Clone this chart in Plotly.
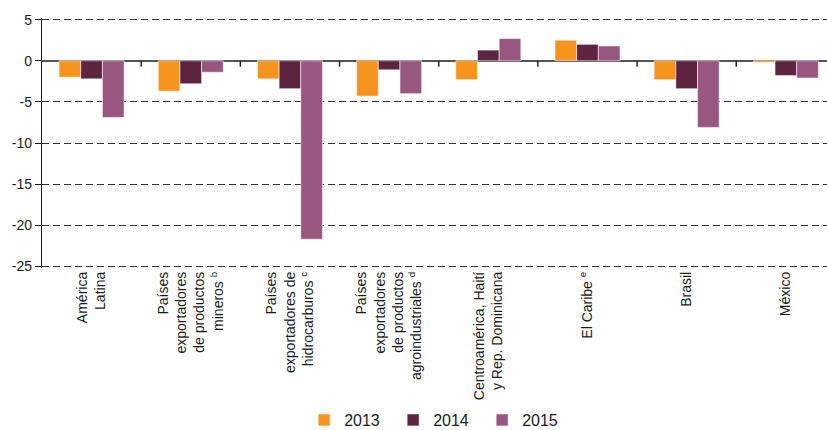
import plotly.graph_objects as go

categories = [
    "América<br>Latina",
    "Países<br>exportadores<br>de productos<br>mineros <sup>b</sup>",
    "Países<br>exportadores de<br>hidrocarburos <sup>c</sup>",
    "Países<br>exportadores<br>de productos<br>agroindustriales <sup>d</sup>",
    "Centroamérica, Haití<br>y Rep. Dominicana",
    "El Caribe <sup>e</sup>",
    "Brasil",
    "México",
]
v2013 = [-2.0, -3.7, -2.2, -4.3, -2.3, 2.5, -2.3, -0.2]
v2014 = [-2.2, -2.8, -3.4, -1.1, 1.3, 2.0, -3.4, -1.8]
v2015 = [-6.9, -1.4, -21.7, -4.0, 2.7, 1.8, -8.1, -2.1]
series_names = ["2013", "2014", "2015"]
colors = ["#F7941D", "#5E2540", "#98577F"]
y_ticks = [5, 0, -5, -10, -15, -20, -25]
y_ticklabels = ["5", "0", "-5", "-10", "-15", "-20", "-25"]

FONT = "Liberation Sans, Arial, sans-serif"
x = list(range(len(categories)))
boundaries = [i + 0.5 for i in range(len(categories) - 1)]
xrange = [-0.5, 7.415]

fig = go.Figure()
for name, vals, col in zip(series_names, [v2013, v2014, v2015], colors):
    fig.add_trace(go.Bar(
        x=x, y=vals, name=name,
        marker=dict(color=col, line=dict(color="rgba(255,255,255,0.7)", width=0.8)),
    ))

# small category-boundary tick marks hanging from the zero line
for b in boundaries:
    fig.add_shape(type="line", xref="x", yref="y", x0=b, x1=b,
                  ysizemode="pixel", yanchor=0, y0=0, y1=-6,
                  line=dict(color="#1a1a1a", width=1.4), layer="above")

fig.update_layout(
    template="none",
    width=827, height=430,
    margin=dict(l=42, r=0, t=18, b=162, pad=0),
    paper_bgcolor="white", plot_bgcolor="white",
    font=dict(family=FONT, color="#1a1a1a"),
    barmode="group", bargap=0.344, bargroupgap=0,
    xaxis=dict(
        range=xrange, tickmode="array", tickvals=x, ticktext=categories,
        tickangle=-90, tickfont=dict(size=14, family=FONT, color="#1a1a1a"),
        showgrid=False, zeroline=False, showline=False, ticks="",
        automargin=False,
    ),
    yaxis=dict(
        range=[-25.2, 5.2], tickmode="array", tickvals=y_ticks, ticktext=y_ticklabels,
        tickfont=dict(size=14, family=FONT, color="#1a1a1a"),
        showgrid=True, gridcolor="#333333", gridwidth=1, griddash="7px,4px",
        zeroline=True, zerolinecolor="#555555", zerolinewidth=2,
        showline=True, linecolor="#1a1a1a", linewidth=1.3,
        ticks="outside", ticklen=6, tickwidth=1.2, tickcolor="#1a1a1a",
        automargin=False,
    ),
    legend=dict(
        orientation="h", x=0.504, xanchor="center",
        yref="container", y=10 / 430, yanchor="middle",
        font=dict(size=16, family=FONT, color="#1a1a1a"),
        entrywidth=44, entrywidthmode="pixels",
        bgcolor="rgba(0,0,0,0)",
    ),
    showlegend=True,
)

fig.write_html(
    "out.html",
    config={"displayModeBar": False},
    post_script="document.body.style.margin='0';document.body.style.overflow='hidden';",
)
